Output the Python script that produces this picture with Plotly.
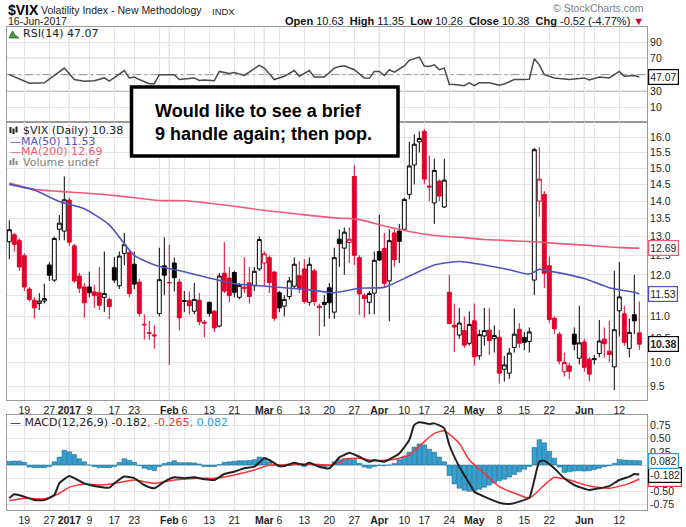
import math
import pandas as pd
import plotly.graph_objects as go

# ---------------- data ----------------
holidays = ['2016-12-26', '2017-01-02', '2017-01-16', '2017-02-20', '2017-04-14', '2017-05-29']
dates = [d.strftime('%Y-%m-%d') for d in pd.bdate_range('2016-12-14', '2017-06-16')
         if d.strftime('%Y-%m-%d') not in holidays]

opens = [12.86, 13.05, 12.90, 12.49, 11.65, 11.38, 11.30, 11.36, 12.25, 11.87, 13.20, 13.15,
         14.03, 12.75, 11.97, 11.70, 11.70, 11.58, 11.56, 11.45, 11.40, 12.18,
         11.73, 12.55, 12.57, 12.27, 11.82, 10.82, 10.62, 10.56, 11.07, 12.23,
         11.80, 12.30, 11.82, 11.35, 11.37, 11.12, 11.38, 10.87, 11.33, 11.12,
         10.78, 12.04, 11.92, 12.06, 11.45, 11.69, 11.80, 11.73, 12.15,
         12.30, 12.44, 12.07, 11.56, 11.24, 11.47, 11.72, 11.98, 12.15, 11.33,
         12.10, 11.24, 11.33, 11.68, 11.10, 12.93, 12.69, 12.84, 14.74, 12.44,
         11.50, 11.33, 11.55,
         12.60, 12.68, 11.85, 13.10, 13.15, 13.20, 14.20, 15.10, 15.85, 16.20,
         14.45, 13.95, 14.60, 13.83, 11.57, 10.80, 10.58, 10.68, 10.40,
         10.90, 10.13, 10.56, 10.69, 10.50, 10.53, 9.85, 9.77, 10.31, 10.71,
         10.53, 10.44, 11.87, 14.00, 14.20, 12.23, 10.96, 10.60, 9.80, 9.92,
         10.60, 10.08,
         10.43, 10.06, 10.05, 10.18, 10.49, 10.23, 9.90, 11.13, 11.06, 10.29,
         11.04, 10.63]
highs = [13.45, 13.10, 12.95, 12.55, 11.70, 11.45, 11.55, 11.78, 12.32, 13.00, 13.60, 14.74,
         14.10, 12.80, 12.05, 11.80, 12.08, 11.75, 12.20, 12.60, 11.45, 12.45,
         12.60, 13.10, 12.65, 12.60, 11.90, 11.05, 10.90, 10.80, 12.70, 12.98,
         12.78, 12.44, 11.90, 11.60, 11.59, 11.80, 11.55, 10.92, 11.35, 11.15,
         12.05, 12.85, 12.20, 12.10, 11.80, 12.45, 12.20, 12.20, 13.00,
         12.60, 12.50, 12.10, 11.60, 11.50, 11.95, 12.45, 12.35, 12.40, 12.45,
         12.15, 11.30, 11.50, 11.80, 12.70, 13.20, 13.25, 13.25, 15.10, 12.50,
         11.55, 11.60, 12.60,
         13.60, 13.10, 13.20, 13.20, 13.35, 14.10, 15.85, 16.10, 16.20, 16.28,
         15.40, 15.30, 14.65, 15.30, 12.00, 11.30, 11.20, 11.00, 11.12,
         11.30, 10.70, 11.20, 11.19, 10.80, 10.70, 10.13, 10.30, 11.19, 10.85,
         10.65, 10.75, 15.65, 15.67, 14.30, 12.47, 11.00, 10.65, 10.20, 9.98,
         10.75, 11.25,
         10.50, 10.10, 10.15, 10.92, 10.75, 10.90, 12.10, 12.33, 11.25, 10.95,
         12.00, 11.35]
lows = [12.40, 12.60, 12.10, 11.60, 11.35, 10.95, 11.15, 11.30, 11.85, 11.82, 12.90, 12.90,
        12.75, 11.80, 11.55, 10.97, 11.45, 11.20, 11.15, 11.10, 10.94, 11.80,
        11.65, 12.25, 11.45, 11.65, 11.00, 10.48, 10.48, 10.28, 11.00, 11.50,
        9.94, 11.59, 10.68, 11.10, 11.04, 11.05, 10.80, 10.53, 11.00, 10.65,
        10.75, 11.55, 11.33, 11.45, 11.40, 11.55, 11.30, 11.60, 12.10,
        11.72, 11.55, 10.90, 11.10, 11.00, 11.40, 11.65, 11.55, 11.30, 11.25,
        11.25, 10.56, 10.77, 10.95, 10.95, 12.20, 12.00, 12.30, 12.25, 11.04,
        10.97, 11.05, 11.05,
        12.35, 11.70, 10.89, 12.20, 12.30, 13.15, 14.05, 14.50, 15.50, 14.50,
        14.00, 13.35, 14.00, 13.80, 10.82, 10.21, 10.50, 10.30, 10.35,
        9.93, 10.05, 10.35, 10.15, 10.20, 9.56, 9.60, 9.65, 10.20, 10.30,
        10.25, 10.20, 11.50, 13.55, 11.67, 10.85, 10.60, 9.95, 9.70, 9.65,
        10.25, 9.95,
        9.80, 9.60, 9.95, 10.10, 10.10, 10.00, 9.43, 10.55, 10.35, 10.10,
        10.60, 10.26]
closes = [13.19, 12.79, 12.20, 11.70, 11.40, 11.20, 11.36, 11.42, 11.99, 12.95, 13.37, 14.04,
          12.85, 11.85, 11.67, 11.32, 11.56, 11.49, 11.26, 11.54, 11.23, 11.87,
          12.48, 12.78, 11.54, 11.77, 11.07, 10.81, 10.63, 10.58, 11.88, 11.99,
          11.81, 11.93, 10.97, 11.37, 11.25, 11.40, 10.88, 10.85, 11.07, 10.74,
          11.97, 11.60, 11.49, 11.57, 11.74, 11.67, 11.47, 12.09, 12.92,
          12.54, 11.81, 10.96, 11.20, 11.40, 11.85, 12.27, 11.66, 11.35, 12.27,
          11.35, 11.21, 11.28, 11.32, 12.44, 12.81, 13.12, 12.93, 12.50, 11.53,
          11.42, 11.54, 12.37,
          12.38, 11.79, 12.89, 12.39, 12.87, 14.05, 15.07, 15.77, 15.96, 14.66,
          14.42, 14.93, 14.15, 14.63, 10.84, 10.76, 10.85, 10.36, 10.82,
          10.11, 10.59, 10.68, 10.46, 10.57, 9.77, 9.94, 10.19, 10.60, 10.40,
          10.42, 10.65, 15.59, 14.66, 12.04, 10.93, 10.72, 10.02, 9.99, 9.81,
          10.38, 10.41,
          9.89, 9.75, 10.07, 10.45, 10.39, 10.16, 10.70, 11.46, 10.42, 10.64,
          10.90, 10.38]

# moving averages (position in the date list, value)
ma_pos = [0, 5, 10, 15, 20, 25, 30, 35, 40, 45, 50, 55, 60, 65, 70, 75, 80, 85, 90, 95,
          100, 104, 106, 107, 110, 115, 120, 125, 126]
ma50 = [14.50, 14.33, 13.99, 13.78, 13.32, 12.50, 12.21, 12.08, 11.92, 11.78, 11.73, 11.68,
        11.63, 11.56, 11.67, 11.69, 11.97, 12.25, 12.34, 12.25, 12.13, 12.02, 12.14, 12.12,
        12.05, 11.91, 11.68, 11.57, 11.53]
ma200_pos = [0, 5, 10, 15, 20, 25, 30, 35, 40, 45, 50, 55, 60, 65, 70, 75, 80, 85, 90, 95,
             100, 105, 110, 115, 120, 125, 126]
ma200 = [14.54, 14.35, 14.29, 14.24, 14.18, 14.10, 14.02, 14.01, 13.94, 13.85, 13.75, 13.67,
         13.59, 13.52, 13.47, 13.29, 13.14, 13.03, 12.98, 12.92, 12.89, 12.86, 12.81, 12.77,
         12.72, 12.69, 12.69]

rsi_pos = [0, 4, 7, 11, 13, 15, 17, 19, 20, 23, 24, 25, 26, 28, 29, 30, 33, 34, 37, 38, 39,
           41, 42, 44, 45, 47, 50, 51, 53, 55, 57, 58, 60, 61, 63, 65, 66, 67, 69, 71, 72,
           73, 74, 75, 76, 77, 79, 80, 82, 83, 84, 85, 86, 87, 88, 89, 91, 92, 93, 94, 96,
           98, 99, 101, 103, 104, 105, 106, 107, 109, 112, 115, 116, 118, 120, 122, 123,
           125, 126]
rsi = [50, 39.5, 40, 58, 44, 42, 42.5, 46, 42, 55, 46, 47, 44, 39, 39, 50, 50, 44, 46, 43,
       43.5, 42.5, 54, 51.5, 52.5, 49, 61.4, 58, 44, 48, 55, 48, 55, 47, 47, 58, 60, 61, 56,
       46, 45.5, 54, 54, 49, 56, 53, 60.6, 67.6, 71.5, 60.6, 60, 62, 56, 58, 38.2, 38, 36.5,
       40, 36.5, 40, 40, 37, 38.5, 44, 44, 44.5, 69.6, 62, 50, 46, 44, 46, 43.5, 47, 46, 54,
       48, 49, 47.07]

macd_pos = [0, 1, 3, 5, 7, 9, 10, 12, 13, 15, 17, 20, 21, 23, 25, 27, 29, 31, 33, 35, 37, 39,
            41, 43, 45, 47, 49, 51, 52, 54, 55, 57, 59, 60, 62, 64, 65, 66, 67, 68, 70, 72,
            73, 75, 77, 78, 80, 81, 82, 84, 85, 87, 88, 90, 92, 93, 95, 98, 100, 102, 104,
            105, 106, 107, 109, 111, 113, 116, 118, 120, 122, 124, 125, 126]
macd = [-0.63, -0.557, -0.60, -0.664, -0.664, -0.57, -0.348, -0.209, -0.25, -0.348, -0.40,
        -0.43, -0.348, -0.22, -0.25, -0.38, -0.443, -0.316, -0.234, -0.25, -0.234, -0.27,
        -0.285, -0.17, -0.127, -0.063, -0.032, 0.127, 0.095, -0.02, -0.02, 0.045, 0.0, 0.045,
        -0.032, -0.063, 0.032, 0.145, 0.19, 0.234, 0.158, 0.063, 0.095, 0.063, 0.158, 0.22,
        0.474, 0.76, 0.81, 0.78, 0.79, 0.696, 0.38, -0.032, -0.348, -0.506, -0.60, -0.715,
        -0.74, -0.696, -0.62, -0.285, 0.063, 0.082, -0.063, -0.253, -0.38, -0.474, -0.443,
        -0.40, -0.285, -0.22, -0.17, -0.182]
sig_pos = [0, 3, 7, 10, 12, 15, 18, 21, 25, 29, 33, 38, 41, 45, 49, 52, 54, 58, 61, 64, 66,
           67, 70, 73, 77, 80, 83, 85, 87, 90, 92, 95, 98, 102, 104, 107, 109, 112, 116, 120,
           124, 126]
signal = [-0.68, -0.63, -0.645, -0.54, -0.424, -0.36, -0.38, -0.35, -0.285, -0.348, -0.285,
          -0.253, -0.253, -0.19, -0.095, 0.0, 0.0, 0.02, 0.013, 0.0, 0.044, 0.107, 0.127,
          0.082, 0.107, 0.19, 0.443, 0.60, 0.65, 0.41, 0.095, -0.158, -0.41, -0.57, -0.632,
          -0.38, -0.234, -0.285, -0.40, -0.443, -0.348, -0.265]
hist = [0.07, 0.076, 0.076, 0.05,
        -0.04, -0.05, -0.05, -0.05, -0.03,
        0.06, 0.15, 0.28, 0.25, 0.2, 0.12, 0.06, 0.0, -0.03, -0.05, -0.05, -0.05, -0.03,
        0.05, 0.12, 0.09, 0.05, -0.01, -0.06, -0.085, -0.105, -0.03, 0.03, 0.05, 0.08,
        0.044, 0.044, 0.044, 0.04, 0.02,
        -0.03, -0.03, -0.03,
        0.01, 0.05,
        0.06, 0.07, 0.08, 0.08, 0.085,
        0.1, 0.15, 0.14, 0.06, 0.0, -0.03, -0.02, -0.01, 0.04, 0.0, -0.03, 0.04, 0.0, -0.03,
        -0.045, -0.02, 0.06, 0.1,
        0.12, 0.127, 0.1, 0.03, -0.04, -0.06, -0.03, -0.01, -0.015, 0.0, 0.03, 0.1, 0.17,
        0.24, 0.34, 0.4, 0.38, 0.3, 0.24, 0.15, 0.06, -0.2, -0.36, -0.44, -0.48, -0.5, -0.49,
        -0.46, -0.42, -0.38, -0.34, -0.3, -0.27, -0.23, -0.18, -0.13, -0.08, -0.03, 0.33,
        0.48, 0.42, 0.26, 0.13, -0.04, -0.14, -0.13, -0.115, -0.11, -0.115, -0.11, -0.085,
        -0.063, -0.035, -0.015, 0.03, 0.105, 0.095, 0.09, 0.085, 0.082]

grid_dates = ['2016-12-19', '2016-12-27', '2017-01-03', '2017-01-09', '2017-01-17', '2017-01-23',
              '2017-01-30', '2017-02-01', '2017-02-06', '2017-02-13', '2017-02-21', '2017-02-27',
              '2017-03-01', '2017-03-06', '2017-03-13', '2017-03-20', '2017-03-27', '2017-04-03',
              '2017-04-10', '2017-04-17', '2017-04-24', '2017-05-01', '2017-05-08', '2017-05-15',
              '2017-05-22', '2017-05-30', '2017-06-01', '2017-06-05', '2017-06-12']
grid_labels = ['19', '27', '<b>2017</b>', '9', '17', '23', '', '<b>Feb</b>', '6', '13', '21', '',
               '<b>Mar</b>', '6', '13', '20', '27', '<b>Apr</b>', '10', '17', '24', '<b>May</b>',
               '8', '15', '22', '', '<b>Jun</b>', '', '12']
month_dates = ['2017-01-03', '2017-02-01', '2017-03-01', '2017-04-03', '2017-05-01', '2017-06-01']
price_ticks = [9.5, 10.0, 10.5, 11.0, 11.5, 12.0, 12.5, 13.0, 13.5, 14.0, 14.5, 15.0, 15.5, 16.0, 16.5]
price_labels = ['9.5', '10.0', '10.5', '11.0', '', '12.0', '12.5', '13.0', '13.5', '14.0',
                '14.5', '15.0', '15.5', '16.0', '']

# ---------------- styling ----------------
W, H = 686, 527
RED = '#e3002b'
BLUE = '#5353c0'
PINK = '#ee5a78'
GRID = '#e4e4e4'
n = len(dates)


def px(x):
    return x / W


def py(y):
    return 1 - y / H


XD = [px(6.5), px(647)]
XR = [-0.56, 127.54]
RSI_D = [py(122), py(27)]
MAIN_D = [py(400), py(122)]
MACD_D = [py(510), py(415)]

fig = go.Figure()

blk = [i for i in range(n) if i == 0 or closes[i] >= closes[i - 1]]
red = [i for i in range(n) if i > 0 and closes[i] < closes[i - 1]]
for idx, col in ((blk, '#000000'), (red, RED)):
    fig.add_trace(go.Candlestick(
        x=[dates[i] for i in idx], open=[opens[i] for i in idx], high=[highs[i] for i in idx],
        low=[lows[i] for i in idx], close=[closes[i] for i in idx],
        increasing=dict(line=dict(color=col, width=1), fillcolor='white'),
        decreasing=dict(line=dict(color=col, width=1), fillcolor=col),
        whiskerwidth=0, xaxis='x2', yaxis='y2', showlegend=False, hoverinfo='skip'))

fig.add_trace(go.Scatter(x=[dates[p] for p in ma200_pos], y=ma200, mode='lines',
                         line=dict(color=PINK, width=1.6, shape='spline', smoothing=0.6),
                         xaxis='x2', yaxis='y2', showlegend=False))
fig.add_trace(go.Scatter(x=[dates[p] for p in ma_pos], y=ma50, mode='lines',
                         line=dict(color=BLUE, width=1.6, shape='spline', smoothing=0.6),
                         xaxis='x2', yaxis='y2', showlegend=False))

fig.add_trace(go.Scatter(x=[dates[p] for p in rsi_pos], y=rsi, mode='lines',
                         line=dict(color='#4a4a4a', width=1.5),
                         xaxis='x', yaxis='y', showlegend=False))

fig.add_trace(go.Bar(x=dates, y=hist, width=0.9,
                     marker=dict(color='#35a0cf', line=dict(color='#1d6d96', width=0.6)),
                     xaxis='x3', yaxis='y3', showlegend=False))
fig.add_trace(go.Scatter(x=[dates[p] for p in sig_pos], y=signal, mode='lines',
                         line=dict(color='#ff3030', width=1.5, shape='spline', smoothing=0.5),
                         xaxis='x3', yaxis='y3', showlegend=False))
fig.add_trace(go.Scatter(x=[dates[p] for p in macd_pos], y=macd, mode='lines',
                         line=dict(color='#222222', width=2, shape='spline', smoothing=0.5),
                         xaxis='x3', yaxis='y3', showlegend=False))

tickfont = dict(family='Liberation Sans', size=10.5, color='#222')


def xax(anchor, labels):
    return dict(domain=XD, anchor=anchor, type='category', categoryorder='array',
                categoryarray=dates, range=XR, tickmode='array', tickvals=grid_dates,
                ticktext=grid_labels, showticklabels=labels, ticks='', tickfont=tickfont,
                showgrid=True, gridcolor=GRID, gridwidth=1, zeroline=False,
                showline=True, mirror=True, linecolor='#9a9a9a', linewidth=1,
                rangeslider=dict(visible=False), fixedrange=True)


def yax(anchor, dom, **kw):
    d = dict(domain=dom, anchor=anchor, side='right', ticks='', tickfont=tickfont,
             showgrid=True, gridcolor=GRID, gridwidth=1, zeroline=False,
             showline=True, mirror=True, linecolor='#9a9a9a', linewidth=1, fixedrange=True)
    d.update(kw)
    return d


layout = dict(
    width=W, height=H, margin=dict(l=0, r=0, t=0, b=0),
    paper_bgcolor='white', plot_bgcolor='white', boxgap=0.22, boxgroupgap=0.0,
    bargap=0.1, showlegend=False,
    xaxis=xax('y', False), xaxis2=xax('y2', True), xaxis3=xax('y3', True),
    yaxis=yax('x', RSI_D, range=[-8, 108.4], tickmode='array', tickvals=[10, 30, 70, 90],
              ticktext=['10', '30', '70', '90']),
    yaxis2=yax('x2', MAIN_D, type='log', range=[math.log10(9.237), math.log10(16.52)],
               tickmode='array', tickvals=price_ticks, ticktext=price_labels),
    yaxis3=yax('x3', MACD_D, range=[-0.854, 0.949], tickmode='array',
               tickvals=[-0.75, -0.5, -0.25, 0, 0.25, 0.5, 0.75],
               ticktext=['-0.75', '-0.50', '', '', '0.25', '0.50', '0.75']),
)
fig.update_layout(**layout)

shapes = []
# RSI reference lines
for lv, dash, col in ((70, 'solid', '#8c8c8c'), (30, 'solid', '#8c8c8c'), (50, 'dashdot', '#8c8c8c')):
    shapes.append(dict(type='line', xref='x domain', yref='y', x0=0, x1=1, y0=lv, y1=lv,
                       line=dict(color=col, width=1, dash=dash), layer='below'))
# month separators
for md in month_dates:
    for dom in (RSI_D, MAIN_D, MACD_D):
        shapes.append(dict(type='line', xref='x2', yref='paper', x0=md, x1=md,
                           y0=dom[0], y1=dom[1], line=dict(color='#b4b4b4', width=1),
                           layer='below'))
# note box
shapes.append(dict(type='rect', xref='paper', yref='paper', x0=px(131.5), x1=px(398),
                   y0=py(156), y1=py(87), line=dict(color='black', width=3.5),
                   fillcolor='white', layer='above'))
# small legend icons
shapes.append(dict(type='path', xref='paper', yref='paper',
                   path='M %f %f L %f %f L %f %f L %f %f Z' % (px(9), py(38), px(12.5), py(31),
                                                              px(15), py(35), px(19), py(38)),
                   fillcolor='#3c9a3c', line=dict(color='#2a6a2a', width=0.8)))
for xx, y0, y1 in ((9.5, 133, 127), (12.5, 134, 128.5), (15.5, 132.5, 126.5)):
    shapes.append(dict(type='rect', xref='paper', yref='paper', x0=px(xx), x1=px(xx + 2),
                       y0=py(y0), y1=py(y1), fillcolor='#222', line=dict(width=0)))
for xx, y0, y1 in ((9.5, 165, 160), (12.5, 165, 158), (15.5, 165, 161)):
    shapes.append(dict(type='rect', xref='paper', yref='paper', x0=px(xx), x1=px(xx + 2),
                       y0=py(y0), y1=py(y1), fillcolor='#888', line=dict(width=0)))
fig.update_layout(shapes=shapes)

ann = []


def txt(x, y, text, size, color='#000', family='Liberation Sans', xanchor='left'):
    ann.append(dict(xref='paper', yref='paper', x=px(x), y=py(y), text=text, showarrow=False,
                    xanchor=xanchor, yanchor='middle',
                    font=dict(family=family, size=size, color=color)))


DV = 'DejaVu Sans'
txt(6, 10.5, '<b>$VIX</b>', 14)
txt(38.5, 10.5, 'Volatility Index - New Methodology', 10.5, '#222')
txt(210, 11, 'INDX', 9.5, '#222')
txt(6, 21.5, '16-Jun-2017', 10.5, '#222')
txt(646, 7.5, '© StockCharts.com', 10.5, '#808080', xanchor='right')
txt(646, 21, '<b>Open</b> 10.63  <b>High</b> 11.35  <b>Low</b> 10.26  <b>Close</b> 10.38  '
             '<b>Chg</b> -0.52 (-4.77%) <span style="color:#d0003a">▼</span>', 11, '#111',
    xanchor='right')

txt(21, 34, 'RSI(14) 47.07', 11, '#222', DV)
txt(21, 130, '$VIX (Daily) 10.38', 11, '#222', DV)
txt(8, 141, '—MA(50) 11.53', 11, BLUE, DV)
txt(8, 151.5, '—MA(200) 12.69', 11, PINK, DV)
txt(21, 162, 'Volume undef', 11, '#808080', DV)
txt(8, 422, '— MACD(12,26,9) -0.182<span style="color:#ff3030">, -0.265</span>'
            '<span style="color:#2a9fd6">, 0.082</span>', 11, '#222', DV)

txt(153, 111.5, '<b>Would like to see a brief</b>', 18)
txt(153, 134, '<b>9 handle again; then pop.</b>', 18)


def flag(yref, yval, text, border, bold=False):
    ann.append(dict(xref='paper', yref=yref, x=px(647.5), y=yval,
                    text=('<b>%s</b>' % text) if bold else text, showarrow=False,
                    xanchor='left', yanchor='middle', bgcolor='white', bordercolor=border,
                    borderwidth=1.2, borderpad=1,
                    font=dict(family='Liberation Sans', size=10.5, color='#222')))


flag('y2', math.log10(12.69), '12.69', PINK)
flag('y2', math.log10(11.53), '11.53', BLUE)
flag('y2', math.log10(10.38), '10.38', '#000', bold=True)
flag('y', 47.07, '47.07', '#000')
flag('y3', -0.265, '-0.265', '#ff3030')
flag('y3', -0.182, '-0.182', '#000')
flag('y3', 0.082, '0.082', '#2a9fd6')

fig.update_layout(annotations=ann)
fig.write_html('out.html', config={'displayModeBar': False, 'staticPlot': True},
               post_script="document.body.style.margin='0';"
                           "document.body.style.padding='0';"
                           "document.body.style.overflow='hidden';")
